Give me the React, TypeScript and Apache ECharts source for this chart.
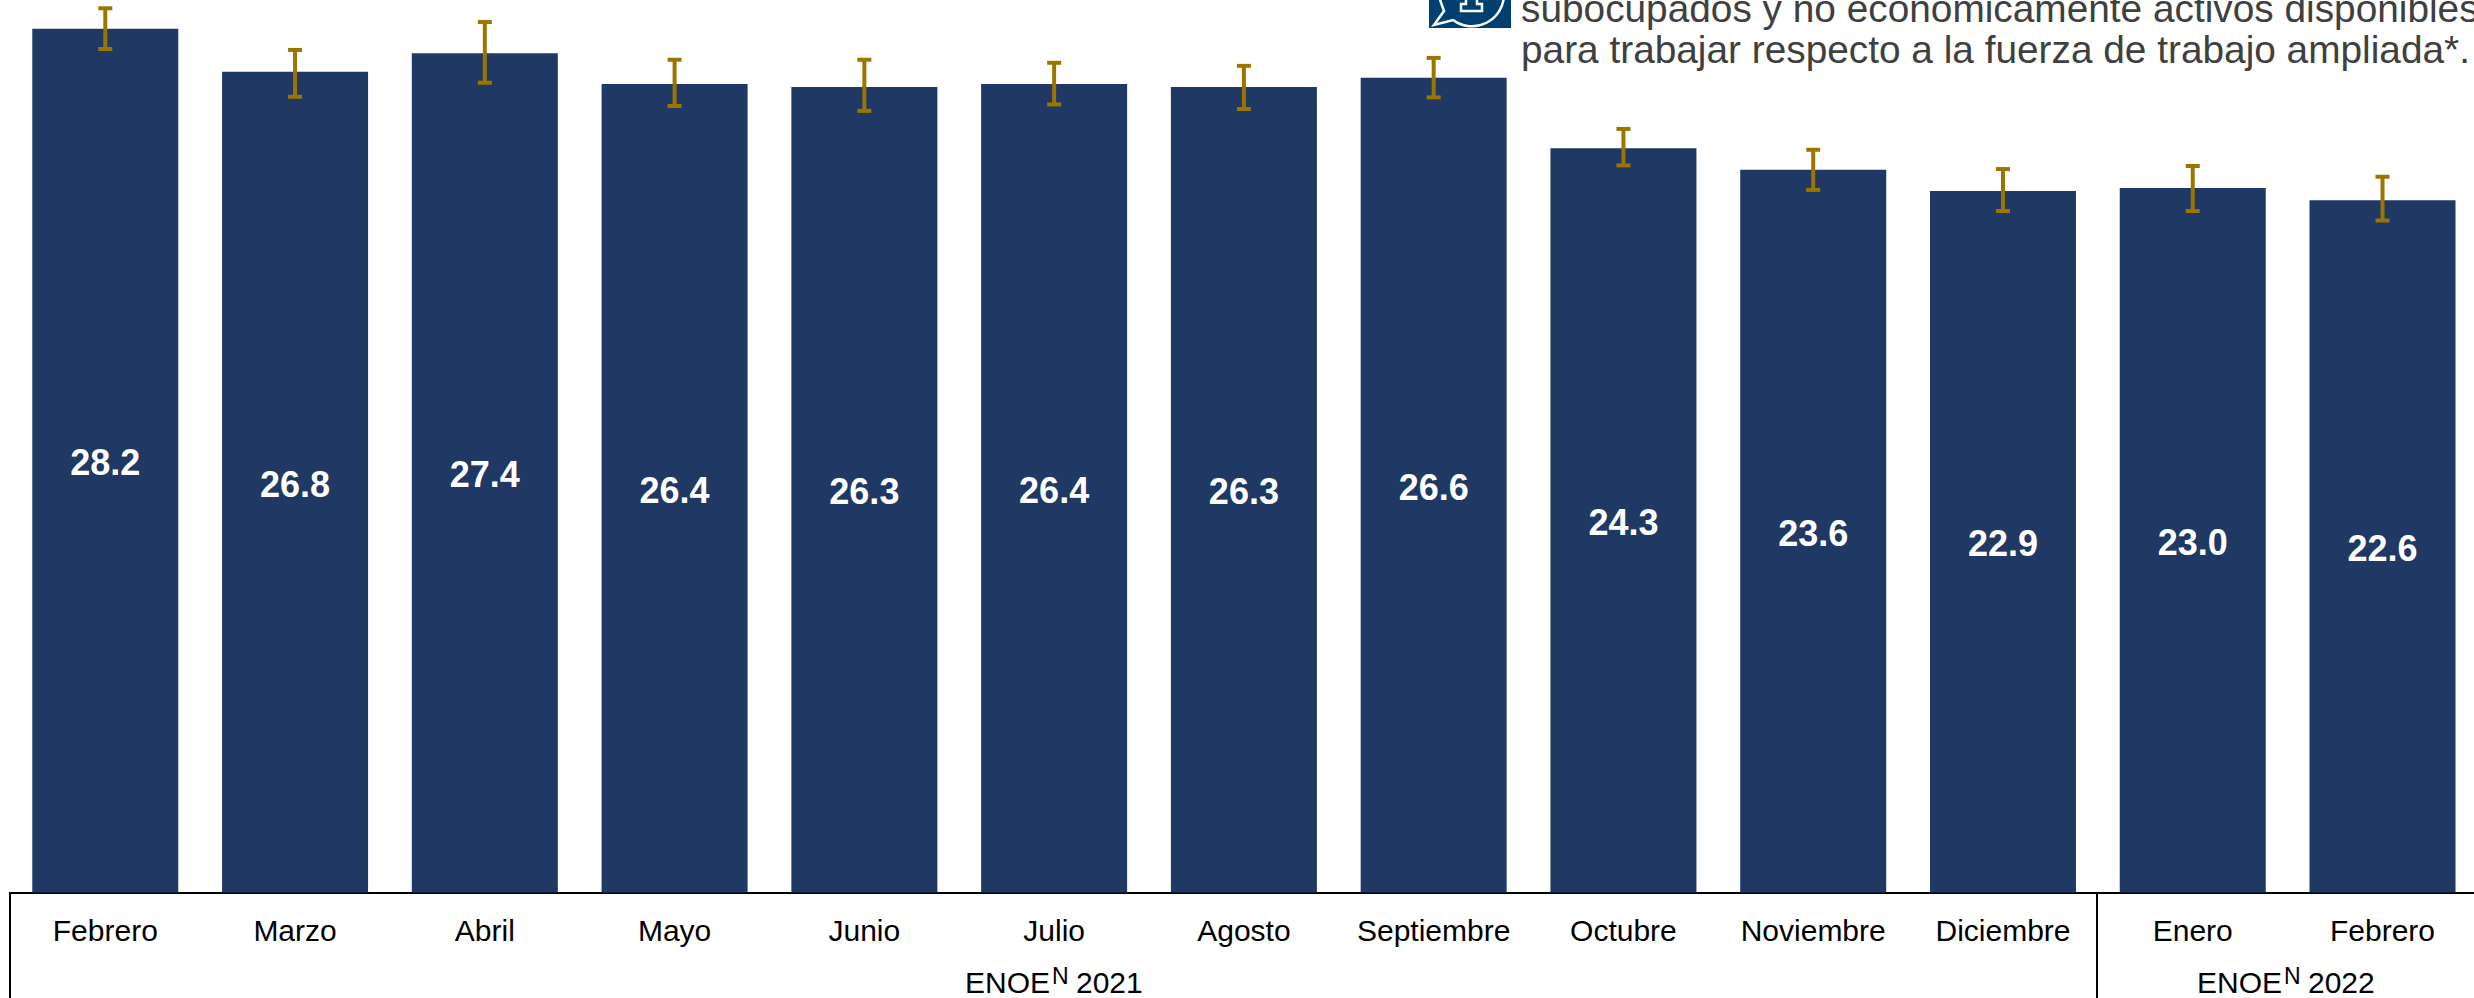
import React, { useEffect, useRef } from "react";
import * as echarts from "echarts";

const months = ["Febrero", "Marzo", "Abril", "Mayo", "Junio", "Julio", "Agosto", "Septiembre", "Octubre", "Noviembre", "Diciembre", "Enero", "Febrero"];
const values = [28.2, 26.8, 27.4, 26.4, 26.3, 26.4, 26.3, 26.6, 24.3, 23.6, 22.9, 23.0, 22.6];
const upper = [28.87, 27.51, 28.42, 27.19, 27.19, 27.09, 26.99, 27.25, 24.93, 24.25, 23.62, 23.72, 23.37];
const lower = [27.54, 25.98, 26.44, 25.68, 25.52, 25.73, 25.58, 25.96, 23.74, 22.94, 22.25, 22.25, 21.94];
const groupYears = ["2021", "2022"];
const titleLines = [
  "subocupados y no económicamente activos disponibles",
  "para trabajar respecto a la fuerza de trabajo ampliada*.",
];

const FONT = "'Liberation Sans', Arial, sans-serif";
const BAR = "#1F3864";
const ERR = "#9C7500";

const bubble = "M1438 -6 L1444 11 L1434 25 L1453 20 A 32 32 0 0 0 1504 -6";
const glyph = "M1466 -2 L1466 4 L1461 4 L1461 11 L1482 11 L1482 4 L1477 4 L1477 -2";
echarts.graphic.registerShape("bubbleIcon", echarts.graphic.extendPath(bubble, {}));
echarts.graphic.registerShape("glyphIcon", echarts.graphic.extendPath(glyph, {}));

function groupLabel(center: number, year: string) {
  const base = { fontFamily: FONT, fill: "#000000", verticalAlign: "middle" };
  return {
    type: "group",
    children: [
      { type: "text", x: center - 3, y: 982, style: { ...base, text: "ENOE", fontSize: 30, align: "right" } },
      { type: "text", x: center - 1, y: 975.5, style: { ...base, text: "N", fontSize: 23, align: "left" } },
      { type: "text", x: center + 23, y: 982, style: { ...base, text: year, fontSize: 30, align: "left" } },
    ],
  };
}

function vline(x: number) {
  return {
    type: "line",
    shape: { x1: x, y1: 892, x2: x, y2: 998 },
    style: { stroke: "#000000", lineWidth: 2 },
  };
}

export default function App() {
  const ref = useRef<HTMLDivElement>(null);
  useEffect(() => {
    const chart = echarts.init(ref.current!, undefined, { renderer: "svg" });
    chart.setOption({
      animation: false,
      backgroundColor: "#ffffff",
      grid: { left: 10.4, top: 0, width: 2467, height: 892.5, containLabel: false },
      xAxis: {
        type: "category",
        data: months.map((m, i) => ({ value: `${i}|${m}` })),
        axisLine: { show: true, lineStyle: { color: "#000000", width: 2 } },
        axisTick: { show: false },
        axisLabel: {
          formatter: (v: string) => v.split("|")[1],
          interval: 0,
          margin: 23,
          fontFamily: FONT,
          fontSize: 30,
          color: "#000000",
        },
      },
      yAxis: { type: "value", min: 0, max: 29.14, show: false, splitLine: { show: false } },
      series: [
        {
          type: "bar",
          data: values,
          barWidth: 146,
          itemStyle: { color: BAR },
          label: {
            show: true,
            position: "inside",
            offset: [0, 2],
            formatter: (p: any) => Number(p.value).toFixed(1),
            fontFamily: FONT,
            fontWeight: "bold",
            fontSize: 36,
            color: "#ffffff",
          },
        },
        {
          type: "custom",
          data: values.map((_, i) => [i, lower[i], upper[i]]),
          encode: { x: 0, y: [1, 2] },
          z: 5,
          renderItem: (_p: any, api: any) => {
            const lo = api.coord([api.value(0), api.value(1)]);
            const hi = api.coord([api.value(0), api.value(2)]);
            const style = { stroke: ERR, lineWidth: 4, fill: "none" };
            const cap = 7;
            return {
              type: "group",
              children: [
                { type: "line", shape: { x1: lo[0], y1: lo[1], x2: hi[0], y2: hi[1] }, style },
                { type: "line", shape: { x1: lo[0] - cap, y1: lo[1], x2: lo[0] + cap, y2: lo[1] }, style },
                { type: "line", shape: { x1: hi[0] - cap, y1: hi[1], x2: hi[0] + cap, y2: hi[1] }, style },
              ],
            };
          },
        },
      ],
      graphic: [
        vline(10),
        vline(2097),
        groupLabel(1053, groupYears[0]),
        groupLabel(2285, groupYears[1]),
        {
          type: "rect",
          shape: { x: 1429, y: -2, width: 82, height: 30 },
          style: { fill: "#003F72" },
        },
        { type: "bubbleIcon", style: { fill: "none", stroke: "#ffffff", lineWidth: 2.5 } },
        { type: "glyphIcon", style: { fill: "none", stroke: "#ffffff", lineWidth: 2.5 } },
        {
          type: "text",
          x: 1521,
          y: 8,
          style: { text: titleLines[0], fontFamily: FONT, fontSize: 38.8, fill: "#404040", align: "left", verticalAlign: "middle" },
        },
        {
          type: "text",
          x: 1521,
          y: 49,
          style: { text: titleLines[1], fontFamily: FONT, fontSize: 38.8, fill: "#404040", align: "left", verticalAlign: "middle" },
        },
      ],
    });
    return () => chart.dispose();
  }, []);
  return (
    <div style={{ position: "fixed", left: 0, top: 0, width: 2474, height: 998, overflow: "hidden" }}>
      <div ref={ref} style={{ width: 2490, height: 998 }} />
    </div>
  );
}
